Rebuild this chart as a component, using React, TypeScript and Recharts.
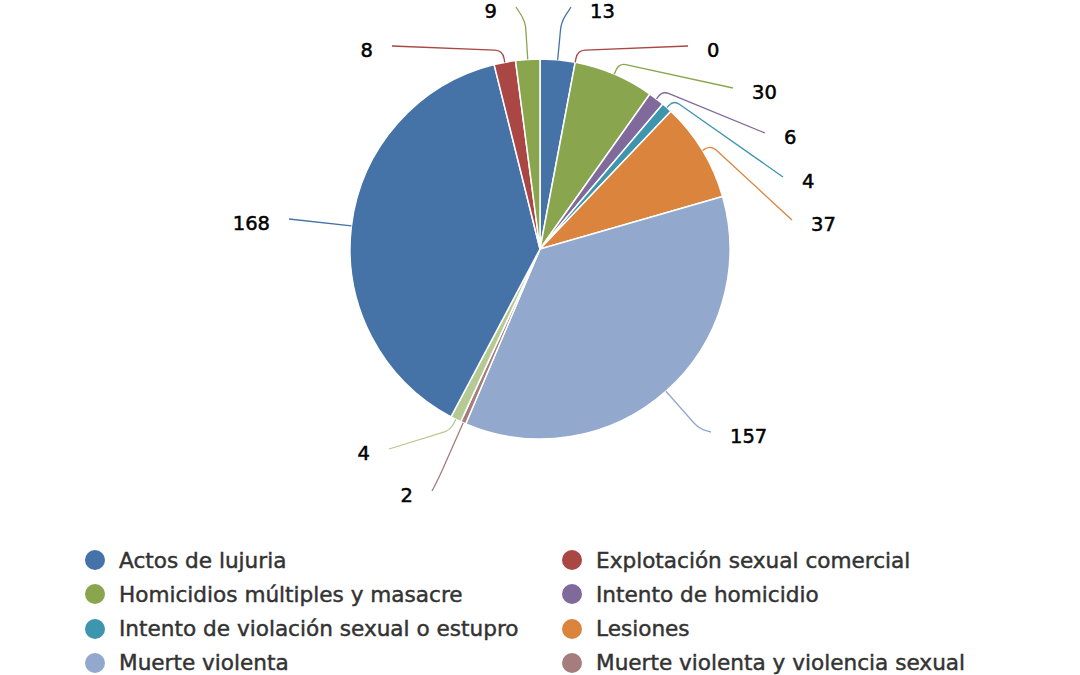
import { Cell, Pie, PieChart } from "recharts";

// categories in drawing order (clockwise from 12 o'clock)
const CATEGORIES = [
  "Actos de lujuria",
  "Explotación sexual comercial",
  "Homicidios múltiples y masacre",
  "Intento de homicidio",
  "Intento de violación sexual o estupro",
  "Lesiones",
  "Muerte violenta",
  "Muerte violenta y violencia sexual",
  "Trata de personas",
  "Violación sexual",
  "Violencia contra la mujer",
  "Violencia intrafamiliar",
];
const VALUES = [13, 0, 30, 6, 4, 37, 157, 2, 4, 168, 8, 9];
const COLORS = ["#4572A7", "#AA4643", "#89A54E", "#80699B", "#3D96AE", "#DB843D", "#92A8CD", "#A47D7C", "#B5CA92"];
// legend rows that fit in the frame
const LEGEND_VISIBLE = 8;

// connector layout: radial run-out beyond the rim, then end point relative to pie centre
const LABEL_LAYOUT = [
  { ext: 38, dx: 31, dy: -242 },
  { ext: 12, dx: 148, dy: -203 },
  { ext: 12, dx: 193, dy: -161 },
  { ext: 10, dx: 225, dy: -116 },
  { ext: 10, dx: 243, dy: -72 },
  { ext: 10, dx: 252, dy: -29 },
  { ext: 50, dx: 171, dy: 183 },
  { ext: 60, dx: -108, dy: 242 },
  { ext: 12, dx: -151, dy: 200 },
  { ext: 0, dx: -251, dy: -30 },
  { ext: 12, dx: -148, dy: -203 },
  { ext: 38, dx: -24, dy: -242 },
];

const data = CATEGORIES.map((name, i) => ({ name, value: VALUES[i] }));
const colorOf = (i: number) => COLORS[i % COLORS.length];
const RAD = Math.PI / 180;
const FONT = "'DejaVu Sans', Verdana, sans-serif";

function renderLabel(props: any) {
  const { cx, cy, midAngle, outerRadius, index, value } = props;
  const lay = LABEL_LAYOUT[index];
  if (!lay) return null;
  const cos = Math.cos(-midAngle * RAD);
  const sin = Math.sin(-midAngle * RAD);
  const sx = cx + outerRadius * cos;
  const sy = cy + outerRadius * sin;
  const ex = cx + lay.dx;
  const ey = cy + lay.dy;
  let d = `M${sx},${sy}L${ex},${ey}`;
  if (lay.ext > 0) {
    const kx = cx + (outerRadius + lay.ext) * cos;
    const ky = cy + (outerRadius + lay.ext) * sin;
    const r = Math.min(8, lay.ext * 0.7);
    const ax = kx - r * cos;
    const ay = ky - r * sin;
    const len = Math.hypot(ex - kx, ey - ky) || 1;
    const bx = kx + ((ex - kx) / len) * r;
    const by = ky + ((ey - ky) / len) * r;
    d = `M${sx},${sy}L${ax},${ay}Q${kx},${ky} ${bx},${by}L${ex},${ey}`;
  }
  const right = ex > cx;
  return (
    <g key={`lbl-${index}`}>
      <path d={d} fill="none" stroke={colorOf(index)} strokeWidth={1.3} />
      <text
        x={right ? ex + 19 : ex - 19}
        y={ey + 4}
        textAnchor={right ? "start" : "end"}
        dominantBaseline="central"
        fontFamily={FONT}
        fontSize={19.5}
        fill="#000"
        stroke="#000"
        strokeWidth={0.5}
      >
        {value}
      </text>
    </g>
  );
}

function ChartLegend() {
  return (
    <>
      {data.slice(0, LEGEND_VISIBLE).map((d, i) => {
        const col = i % 2;
        const row = Math.floor(i / 2);
        return (
          <div
            key={d.name}
            style={{
              position: "absolute",
              left: col === 0 ? 85 : 562,
              top: 560 + row * 34.3 - 14,
              height: 28,
              display: "flex",
              alignItems: "center",
              whiteSpace: "nowrap",
              fontFamily: FONT,
              fontSize: 21.6,
              color: "#333",
              WebkitTextStroke: "0.45px #333",
            }}
          >
            <span
              style={{
                display: "inline-block",
                width: 20,
                height: 20,
                borderRadius: 10,
                background: colorOf(i),
                marginRight: 14,
              }}
            />
            {d.name}
          </div>
        );
      })}
    </>
  );
}

export default function App() {
  return (
    <div
      style={{
        position: "absolute",
        left: 0,
        top: 0,
        width: 1080,
        height: 675,
        overflow: "hidden",
        background: "#fff",
      }}
    >
      <PieChart width={1080} height={540} margin={{ top: 0, right: 0, bottom: 0, left: 0 }}>
        <Pie
          data={data}
          dataKey="value"
          nameKey="name"
          cx={540}
          cy={249}
          outerRadius={190}
          startAngle={90}
          endAngle={-270}
          stroke="#fff"
          strokeWidth={1.5}
          label={renderLabel}
          labelLine={false}
          isAnimationActive={false}
        >
          {data.map((d, i) => (
            <Cell key={d.name} fill={colorOf(i)} />
          ))}
        </Pie>
      </PieChart>
      <ChartLegend />
    </div>
  );
}
